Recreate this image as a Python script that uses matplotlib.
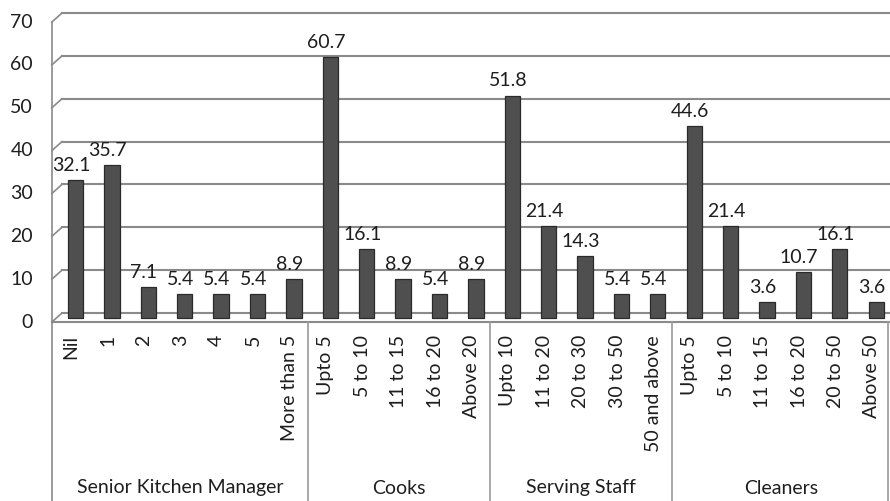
import matplotlib
matplotlib.use("Agg")
import matplotlib.pyplot as plt

# data
groups = ["Senior Kitchen Manager", "Cooks", "Serving Staff", "Cleaners"]
skm_labels = ["Nil", "1", "2", "3", "4", "5", "More than 5"]
skm_values = [32.1, 35.7, 7.1, 5.4, 5.4, 5.4, 8.9]
cooks_labels = ["Upto 5", "5 to 10", "11 to 15", "16 to 20", "Above 20"]
cooks_values = [60.7, 16.1, 8.9, 5.4, 8.9]
serving_labels = ["Upto 10", "11 to 20", "20 to 30", "30 to 50", "50 and above"]
serving_values = [51.8, 21.4, 14.3, 5.4, 5.4]
cleaners_labels = ["Upto 5", "5 to 10", "11 to 15", "16 to 20", "20 to 50", "Above 50"]
cleaners_values = [44.6, 21.4, 3.6, 10.7, 16.1, 3.6]
yticks = [0, 10, 20, 30, 40, 50, 60, 70]

plt.rcParams["font.family"] = ["Lato", "DejaVu Sans"]
TXT = "#1e1e1e"
GRID = "#8a8a8a"
FS = 14

W, H = 890, 501
fig = plt.figure(figsize=(W / 100, H / 100), dpi=100)
# axes: x 0..23 from px 53 to 890, y -2.1..70 from px 322 to 13
ax = fig.add_axes([53 / W, (H - 322) / H, (890 - 53) / W, (322 - 13) / H])
ax.set_xlim(0, 23)
ax.set_ylim(-2.1, 70)
ax.axis("off")

px_per_unit = (322 - 13) / 72.1
depth = 2.1          # pseudo 3d depth in y units
dx = 9 / 36.4        # pseudo 3d depth in x units


def ypx(p):
    # figure pixel row -> data y
    return -2.1 - (p - 322) / px_per_unit


all_labels = skm_labels + cooks_labels + serving_labels + cleaners_labels
all_values = skm_values + cooks_values + serving_values + cleaners_values
sizes = [len(skm_labels), len(cooks_labels), len(serving_labels), len(cleaners_labels)]

# back wall gridlines and slanted side wall
for v in yticks:
    ax.plot([dx, 23], [v, v], color=GRID, lw=1.5, clip_on=False, zorder=1)
    ax.plot([-0.03, dx], [v - depth, v], color=GRID, lw=1.2, clip_on=False, zorder=1)
    ax.text(-0.55, v - depth, str(v), ha="right", va="center", fontsize=FS, color=TXT)
ax.plot([-0.03, -0.03], [ypx(H), 70 - depth], color=GRID, lw=1.2, clip_on=False)
ax.plot([-0.03, 23], [-depth, -depth], color=GRID, lw=1.5, clip_on=False)

# bars
xs = [i + 0.5 for i in range(len(all_values))]
base = -depth / 2
ax.bar([x + 0.12 for x in xs], all_values, bottom=base, width=0.42,
       color="#4f4f4f", edgecolor="#2a2a2a", linewidth=0.9, zorder=3)
for x, v in zip(xs, all_values):
    ax.text(x, base + v + 1.4, f"{v:.1f}", ha="center", va="bottom",
            fontsize=FS, color=TXT, zorder=4)

# category labels
for x, lab in zip(xs, all_labels):
    ax.text(x, ypx(335), lab, rotation=90, ha="center", va="top",
            fontsize=FS, color=TXT, clip_on=False)

# group separators and group labels
start = 0
for g, n in zip(groups, sizes):
    ax.text(start + n / 2, ypx(488), g, ha="center", va="center",
            fontsize=FS, color=TXT)
    start += n
for sep in [7, 12, 17, 22.94]:
    ax.plot([sep, sep], [-depth, ypx(H)], color="#9a9a9a", lw=1.2, clip_on=False)

fig.savefig("out.png", dpi=100, facecolor="white")
